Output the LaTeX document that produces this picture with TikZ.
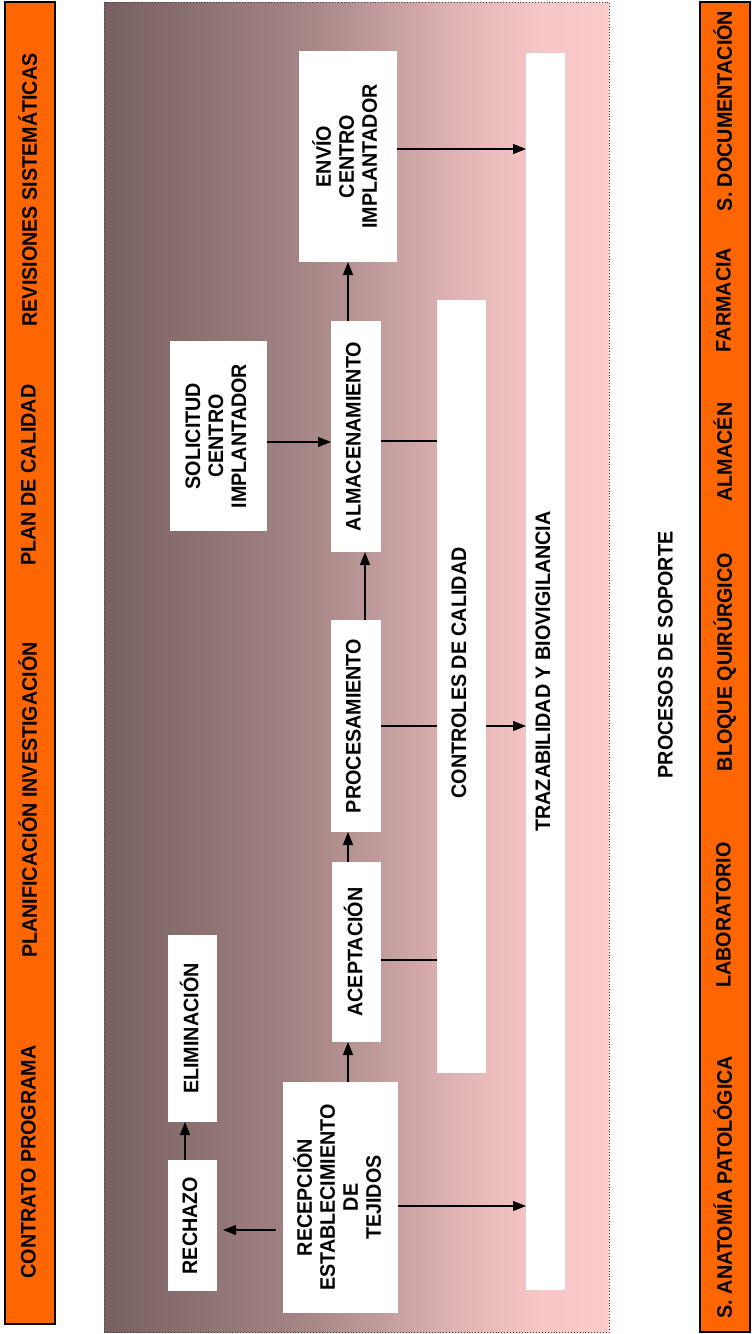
\documentclass[tikz,border=0pt]{standalone}
\usepackage{fontspec}
\setmainfont[FakeStretch=0.94]{Liberation Sans}
\usepackage{graphicx}
\usetikzlibrary{arrows.meta}
\definecolor{orangebar}{RGB}{255,102,0}
\definecolor{gA}{RGB}{120,96,96}
\definecolor{gB}{RGB}{165,133,133}
\definecolor{gC}{RGB}{224,180,180}
\definecolor{gD}{RGB}{246,197,197}
\definecolor{gE}{RGB}{252,203,203}
\definecolor{framegray}{RGB}{70,60,60}
\pgfdeclarehorizontalshading{bgshade}{100bp}{color(0bp)=(gA); color(25bp)=(gA); color(45bp)=(gB); color(60bp)=(gC); color(67.5bp)=(gD); color(75bp)=(gE); color(100bp)=(gE)}
\newcommand{\rottext}[1]{\rotatebox{90}{\begin{tabular}{@{}c@{}}#1\end{tabular}}}
\begin{document}
\begin{tikzpicture}[x=1pt,y=-1pt,
  every node/.style={font=\fontsize{21}{23}\selectfont\bfseries, inner sep=0pt, outer sep=0pt},
  obar/.style={rectangle, fill=orangebar, draw=black, line width=1.4pt},
  bgbox/.style={rectangle, shading=bgshade, draw=framegray, dotted, line width=0.9pt},
  wbox/.style={rectangle, fill=white},
  lbl/.style={text=black},
  ln/.style={draw=black, line width=1.1pt},
  arr/.style={draw=black, line width=1.1pt, -{Triangle[length=13pt,width=10pt]}}]
\useasboundingbox (0,0) rectangle (753,1334);

% side bars and background
\node[obar, minimum width=50pt, minimum height=1322pt] (lbar) at (30,663) {};
\node[obar, minimum width=50pt, minimum height=1330pt] (rbar) at (725,667) {};
\node[bgbox, minimum width=505pt, minimum height=1330pt] (main) at (356.5,667) {};

% left bar labels
\node[lbl] (l1) at (31,1162) {\rottext{CONTRATO PROGRAMA}};
\node[lbl] (l2) at (31,800) {\rottext{PLANIFICACIÓN INVESTIGACIÓN}};
\node[lbl] (l3) at (31,475) {\rottext{PLAN DE CALIDAD}};
\node[lbl] (l4) at (31,190) {\rottext{REVISIONES SISTEMÁTICAS}};

% right bar labels
\node[lbl] (r1) at (726,1187) {\rottext{S. ANATOMÍA PATOLÓGICA}};
\node[lbl] (r2) at (726,915) {\rottext{LABORATORIO}};
\node[lbl] (r3) at (726,662) {\rottext{BLOQUE QUIRÚRGICO}};
\node[lbl] (r4) at (726,452) {\rottext{ALMACÉN}};
\node[lbl] (r5) at (726,300) {\rottext{FARMACIA}};
\node[lbl] (r6) at (726,111) {\rottext{S. DOCUMENTACIÓN}};

\node[lbl] (soporte) at (668,655) {\rottext{PROCESOS DE SOPORTE}};

% white boxes
\node[wbox, minimum width=98pt, minimum height=211pt] (envio) at (348,156.5) {\rottext{ENVÍO\\CENTRO\\IMPLANTADOR}};
\node[wbox, minimum width=39pt, minimum height=1237pt] (traz) at (545.5,671.5) {\rottext{TRAZABILIDAD Y BIOVIGILANCIA}};
\node[wbox, minimum width=49pt, minimum height=773pt] (ctrl) at (461.5,686.5) {};
\node[lbl] (ctrltxt) at (461.5,673) {\rottext{CONTROLES DE CALIDAD}};
\node[wbox, minimum width=50pt, minimum height=231pt] (alm) at (356,436.5) {\rottext{ALMACENAMIENTO}};
\node[wbox, minimum width=97pt, minimum height=190pt] (sol) at (218.5,436) {\rottext{SOLICITUD\\CENTRO\\IMPLANTADOR}};
\node[wbox, minimum width=50pt, minimum height=212pt] (proc) at (356,726) {\rottext{PROCESAMIENTO}};
\node[wbox, minimum width=49pt, minimum height=180pt] (acep) at (356.5,952) {\rottext{ACEPTACIÓN}};
\node[wbox, minimum width=115pt, minimum height=231pt] (rec) at (340.5,1197.5) {\rottext{RECEPCIÓN\\ESTABLECIMIENTO\\DE\\TEJIDOS}};
\node[wbox, minimum width=49pt, minimum height=131pt] (rech) at (192.5,1225.5) {\rottext{RECHAZO}};
\node[wbox, minimum width=49pt, minimum height=187pt] (elim) at (192.5,1028.5) {\rottext{ELIMINACIÓN}};

% connectors
\draw[arr] ([xshift=-8.5pt]acep.south |- rec.north) -- ([xshift=-8.5pt]acep.south);
\draw[arr] ([xshift=-8.5pt]acep.north) -- ([xshift=-8.5pt]acep.north |- proc.south);
\draw[arr] ([xshift=9pt]alm.south |- proc.north) -- ([xshift=9pt]alm.south);
\draw[arr] ([xshift=-8pt]alm.north) -- ([xshift=-8pt]alm.north |- envio.south);
\draw[arr] ([yshift=-6pt]sol.east) -- ([yshift=-6pt]sol.east -| alm.west);
\draw[ln] ([yshift=-4.5pt]alm.east) -- ([yshift=-4.5pt]alm.east -| ctrl.west);
\draw[ln] (proc.east) -- (proc.east -| ctrl.west);
\draw[arr] (proc.east -| ctrl.east) -- (proc.east -| traz.west);
\draw[ln] ([yshift=-8pt]acep.east) -- ([yshift=-8pt]acep.east -| ctrl.west);
\draw[arr] ([yshift=7.5pt]envio.east) -- ([yshift=7.5pt]envio.east -| traz.west);
\draw[arr] ([yshift=-8.5pt]rec.east) -- ([yshift=-8.5pt]rec.east -| traz.west);
\draw[arr, shorten >=6pt] ([xshift=-7pt,yshift=-32.5pt]rec.west) -- ([yshift=-32.5pt]rec.west -| rech.east);
\draw[arr] ([xshift=-7.5pt]rech.north) -- ([xshift=-7.5pt]rech.north |- elim.south);
\end{tikzpicture}
\end{document}
